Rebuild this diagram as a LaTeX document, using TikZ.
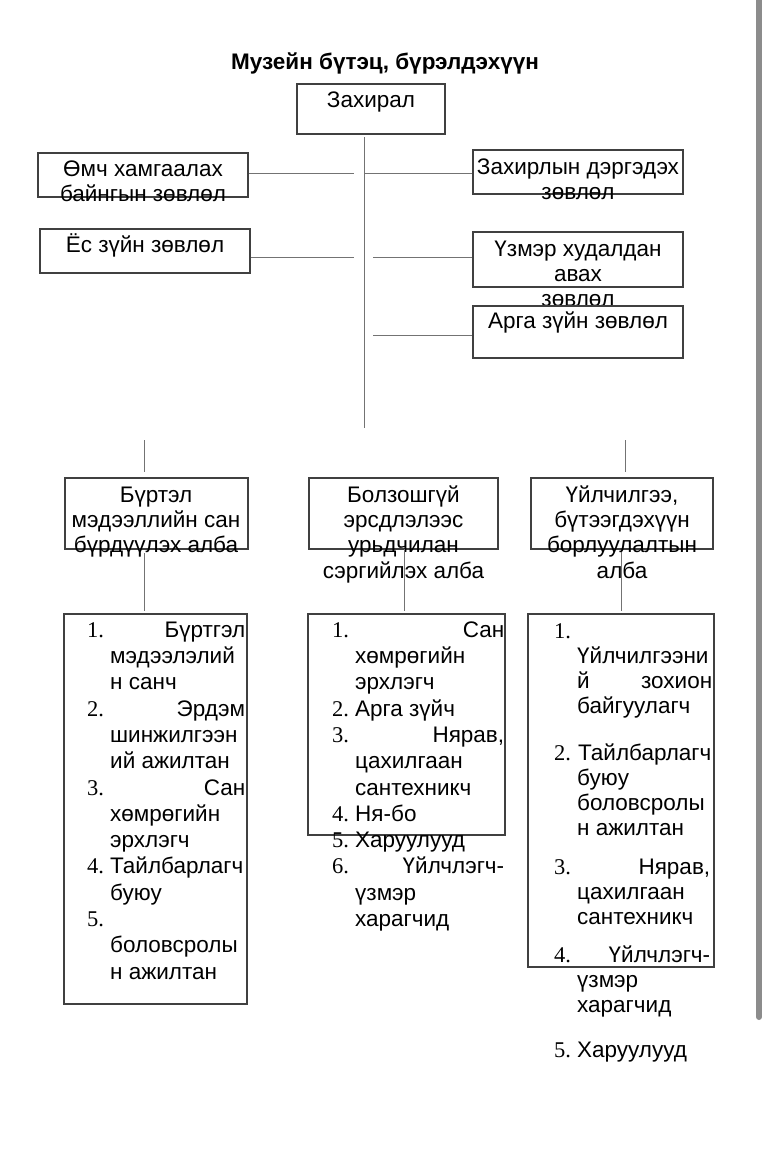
\documentclass[tikz,border=0pt]{standalone}
\usepackage{fontspec}
\setmainfont{Liberation Sans}
\newfontfamily\numfont{Liberation Serif}
\usetikzlibrary{positioning}

\tikzset{
  box/.style={draw=black!75, line width=1.3pt, fill=white, inner sep=0pt},
  conn/.style={draw=black!55, line width=0.9pt},
  captext/.style={align=center, inner sep=0pt, anchor=north, text=black,
    font=\fontsize{22.5}{25.3}\selectfont},
  listtext/.style={align=left, inner sep=0pt, anchor=north west, text=black,
    font=\fontsize{22.5}{26.3}\selectfont},
}
\newcommand\tstrut{\rule{0pt}{21pt}}
\newcommand\lnum[1]{\makebox[23pt][l]{\numfont #1}}
\newcommand\jrow[3]{\hbox to #1pt{{\numfont #2}\hfill #3}}

\begin{document}
\begin{tikzpicture}[x=1pt,y=-1pt]
  \useasboundingbox (0,0) rectangle (768,1160);

  % scrollbar at the right edge
  \draw[line width=6pt, color=black!45, line cap=round] (759,-10) -- (759,1017);

  \node[font=\bfseries\fontsize{22.5}{26}\selectfont, anchor=base, inner sep=0pt, text=black]
    (title) at (385,69) {Музейн бүтэц, бүрэлдэхүүн};

  % boxes
  \node[box, minimum width=148pt, minimum height=50pt] (dir)     at (371,109)   {};
  \node[box, minimum width=210pt, minimum height=44pt] (omch)    at (143,175)   {};
  \node[box, minimum width=210pt, minimum height=44pt] (dergede) at (578,172)   {};
  \node[box, minimum width=210pt, minimum height=44pt] (yos)     at (145,251)   {};
  \node[box, minimum width=210pt, minimum height=55pt] (uzmer)   at (578,259.5) {};

  \node[box, minimum width=183pt, minimum height=71pt] (bL) at (156.5,513.5) {};
  \node[box, minimum width=189pt, minimum height=71pt] (bM) at (403.5,513.5) {};
  \node[box, minimum width=182pt, minimum height=71pt] (bR) at (622,513.5)   {};

  \node[box, minimum width=183pt, minimum height=390pt] (lL) at (155.5,809)   {};
  \node[box, minimum width=197pt, minimum height=221pt] (lM) at (406.5,724.5) {};
  \node[box, minimum width=186pt, minimum height=353pt] (lR) at (621,790.5)   {};

  % captions
  \node[captext] (tdir)     at (371,86)  {\tstrut Захирал};
  \node[captext] (tomch)    at (143,155) {\tstrut Өмч хамгаалах\\байнгын зөвлөл};
  \node[captext] (tdergede) at (578,153) {\tstrut Захирлын дэргэдэх\\зөвлөл};
  \node[captext] (tyos)     at (145,231) {\tstrut Ёс зүйн зөвлөл};
  \node[captext] (tuzmer)   at (578,235) {\tstrut Үзмэр худалдан\\авах\\зөвлөл};

  \node[box, minimum width=210pt, minimum height=52pt] (arga) at (578,332) {};
  \node[captext] (targa)    at (578,307) {\tstrut Арга зүйн зөвлөл};

  \node[captext] (tbL) at (156,481)   {\tstrut Бүртэл\\мэдээллийн сан\\бүрдүүлэх алба};
  \node[captext] (tbM) at (403.5,481) {\tstrut Болзошгүй\\эрсдлэлээс\\урьдчилан\\сэргийлэх алба};
  \node[captext] (tbR) at (622,481)   {\tstrut Үйлчилгээ,\\бүтээгдэхүүн\\борлуулалтын\\алба};

  % lists
  \node[listtext] (tlL) at (87,616) {%
    \jrow{158}{1.}{\tstrut Бүртгэл}\\
    \lnum{}мэдээлэлий\\
    \lnum{}н санч\\
    \jrow{158}{2.}{Эрдэм}\\
    \lnum{}шинжилгээн\\
    \lnum{}ий ажилтан\\
    \jrow{158}{3.}{Сан}\\
    \lnum{}хөмрөгийн\\
    \lnum{}эрхлэгч\\
    \lnum{4.}Тайлбарлагч\\
    \lnum{}буюу\\
    \lnum{5.}\\
    \lnum{}боловсролы\\
    \lnum{}н ажилтан};

  \node[listtext] (tlM) at (332,616) {%
    \jrow{172}{1.}{\tstrut Сан}\\
    \lnum{}хөмрөгийн\\
    \lnum{}эрхлэгч\\
    \lnum{2.}Арга зүйч\\
    \jrow{172}{3.}{Нярав,}\\
    \lnum{}цахилгаан\\
    \lnum{}сантехникч\\
    \lnum{4.}Ня-бо\\
    \lnum{5.}Харуулууд\\
    \jrow{172}{6.}{Үйлчлэгч-}\\
    \lnum{}үзмэр\\
    \lnum{}харагчид};

  \node[listtext, font=\fontsize{22.5}{25}\selectfont] (tlR) at (554,617) {%
    \lnum{1.}\tstrut\\
    \lnum{}Үйлчилгээни\\
    \lnum{}\hbox to 135pt{й\hfill зохион}\\
    \lnum{}байгуулагч\\[22pt]
    \lnum{2.}\hspace{1pt}Тайлбарлагч\\
    \lnum{}буюу\\
    \lnum{}боловсролы\\
    \lnum{}н ажилтан\\[14pt]
    \jrow{156}{3.}{Нярав,}\\
    \lnum{}цахилгаан\\
    \lnum{}сантехникч\\[13pt]
    \jrow{156}{4.}{Үйлчлэгч-}\\
    \lnum{}үзмэр\\
    \lnum{}харагчид\\[20pt]
    \lnum{5.}Харуулууд};

  % connectors
  \coordinate (trunktop) at (364,137);
  \coordinate (trunkend) at (364,428);
  \coordinate (j1) at (354,173);
  \coordinate (k1) at (365,173);
  \coordinate (j2) at (354,257);
  \coordinate (k2) at (373,257);
  \coordinate (k3) at (373,335);
  \coordinate (sL) at (144.5,440);
  \coordinate (sR) at (625,440);
  \coordinate (dL) at (144.5,553);
  \coordinate (dM) at (404,549);
  \coordinate (dR) at (621,552);

  \draw[conn] (trunktop) -- (trunkend);
  \draw[conn] (omch.east |- j1) -- (j1);
  \draw[conn] (k1) -- (k1 -| dergede.west);
  \draw[conn] (yos.east |- j2) -- (j2);
  \draw[conn] (k2) -- (k2 -| uzmer.west);
  \draw[conn] (k3) -- (k3 -| arga.west);
  \draw[conn, shorten >=5pt] (sL) -- (sL |- bL.north);
  \draw[conn, shorten >=5pt] (sR) -- (sR |- bR.north);
  \draw[conn, shorten >=2pt] (dL) -- (dL |- lL.north);
  \draw[conn, shorten >=2pt] (dM) -- (dM |- lM.north);
  \draw[conn, shorten >=2pt] (dR) -- (dR |- lR.north);

\end{tikzpicture}
\end{document}
